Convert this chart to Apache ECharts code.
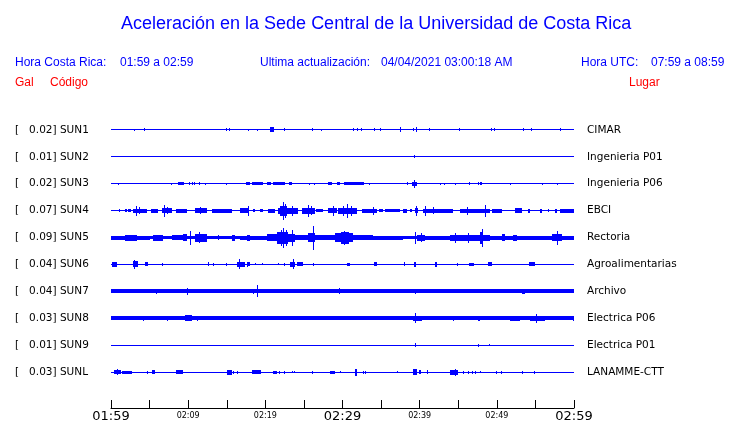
<!DOCTYPE html>
<html>
<head>
<meta charset="utf-8">
<script src="https://cdn.jsdelivr.net/npm/echarts@6/dist/echarts.min.js"></script>
<style>
html,body{margin:0;padding:0;background:#fff;}
#chart{width:740px;height:423px;}
</style>
</head>
<body>
<div id="chart"></div>
<script>
// ---- Data (time in minutes after 01:59, amplitude in relative units) ----
const codes = ['SUN1','SUN2','SUN3','SUN4','SUN5','SUN6','SUN7','SUN8','SUN9','SUNL'];
const peaks = ['0.02','0.01','0.02','0.07','0.09','0.04','0.04','0.03','0.01','0.03'];
const places = ['CIMAR','Ingenieria P01','Ingenieria P06','EBCI','Rectoria','Agroalimentarias','Archivo','Electrica P06','Electrica P01','LANAMME-CTT'];
const tickLabels = ['01:59','02:09','02:19','02:29','02:39','02:49','02:59'];
const baseAmp = [0.5,0.5,0.5,0.5,1.5,0.5,2,2,0.5,0.5];

// events: [start minute, end minute, amplitude]
const sun1 = [[3.0,3.0,1],[4.3,4.3,1.5],[14.9,14.9,1.5],[15.3,15.3,1.5],[17.8,17.8,1],[18.9,18.9,1],[20.6,21.1,2.5],[22.4,22.4,1.5],[26.0,26.0,1.5],[27.2,27.2,1],[31.4,31.4,1.5],[31.9,31.9,1.5],[32.4,32.4,1.5],[34.1,34.1,1.5],[34.9,34.9,1.5],[37.5,37.5,2.5],[39.1,39.1,1.5],[39.5,39.5,2.5],[41.2,41.2,1.5],[45.1,45.1,1.5],[49.2,49.2,1.5],[49.6,49.6,1.5],[53.4,53.4,1.5],[54.4,54.4,1.5],[58.2,58.2,1.5]];
const sun2 = [[39.3,39.4,1.5]];
const sun3 = [[0.9,0.9,1],[7.8,7.8,1],[8.7,9.5,1.5],[10.1,10.1,1.5],[10.5,10.5,1.5],[10.8,10.8,1.5],[11.4,11.4,1.5],[12.2,12.2,1],[14.9,14.9,1],[17.5,18.0,1.5],[18.3,19.7,1.5],[20.2,20.7,1.5],[21.0,22.6,1.5],[23.1,23.5,1.5],[25.7,25.7,1],[26.3,26.3,1],[28.1,28.6,1.5],[29.3,29.7,1.5],[30.2,32.8,1.5],[33.4,33.4,1],[38.4,38.4,1.5],[39.0,39.7,2],[39.3,39.3,4],[42.6,42.6,1],[43.2,43.2,1],[44.6,44.6,1],[46.4,46.4,1.5],[47.6,47.6,1.5],[47.8,48.1,1.5],[51.7,51.7,1],[55.9,55.9,1],[57.8,57.8,1]];
const sun4 = [[1.0,1.0,1.5],[1.8,2.1,1.5],[2.2,2.6,1.5],[2.9,4.7,2],[3.2,3.2,5],[3.6,3.6,3.5],[5.2,6.1,2],[6.6,7.9,2.5],[6.9,6.9,6],[7.3,7.3,3.5],[8.4,9.8,2],[10.9,12.4,2.5],[11.5,11.5,3.5],[13.1,15.7,2],[16.7,17.8,2.5],[17.8,17.8,5],[18.4,18.7,1.5],[19.3,19.7,1.5],[20.3,21.3,2],[21.6,24.2,3],[21.9,22.8,5],[22.3,22.3,9],[22.6,22.6,7],[23.4,23.4,5],[24.8,26.4,3],[25.5,25.5,6],[25.9,25.9,4.5],[26.6,27.5,1.5],[28.1,29.3,2.5],[28.8,28.8,5],[29.4,31.9,3],[30.1,30.1,5],[30.6,30.6,7],[31.1,31.1,5],[32.5,34.5,2],[34.0,34.0,4],[34.7,35.3,1.5],[35.5,37.5,1.5],[37.8,38.4,2],[38.8,39.0,1.5],[39.4,39.8,2.5],[39.5,39.5,5],[40.4,44.3,2],[40.7,40.7,5],[41.7,41.7,3.5],[45.2,49.1,2],[46.1,46.1,4],[48.5,48.5,6],[49.4,50.7,2],[52.4,53.3,2.5],[54.0,54.3,2],[55.6,55.9,2],[56.6,56.6,1.5],[57.5,57.8,2],[58.2,60,2]];
const sun5 = [[0,5.1,2],[1.8,3.4,3],[5.4,6.7,3],[7.9,9.3,2.5],[9.3,9.8,3.5],[10.2,10.2,7],[10.9,12.4,4],[11.4,11.4,5.5],[13.9,13.9,2.5],[15.7,16.1,3],[16.7,20.2,2],[17.6,18.0,3],[20.2,21.5,3.5],[21.5,22.9,6],[22.0,22.0,8],[22.3,22.3,10],[22.7,22.7,8],[22.9,23.8,4],[23.5,23.5,8],[23.8,25.5,2.5],[25.5,26.4,4.5],[26.2,26.2,12],[26.4,29.0,2.5],[29.0,31.4,4.5],[29.8,30.8,6],[30.2,30.2,7],[31.4,34.0,2.5],[34.0,37.8,2],[39.4,39.4,6],[39.7,40.7,3],[40.2,40.2,4.5],[40.7,43.9,2],[43.9,47.8,3],[44.6,44.6,5],[46.3,46.3,5],[47.8,48.2,6],[48.1,48.1,9],[48.2,49.1,3],[48.2,60,2],[50.7,51.1,3.5],[52.1,52.6,3],[57.2,58.4,3.5],[57.8,57.8,7]];
const sun6 = [[0.1,0.8,2.5],[2.9,3.5,3],[3.0,3.0,4.5],[4.4,4.8,2],[6.6,6.6,1.5],[12.6,12.6,2],[13.2,13.2,1.5],[14.9,14.9,1.5],[16.3,17.4,2.5],[16.6,16.6,5],[17.6,18.0,2],[17.6,17.6,2.5],[18.7,18.7,1],[19.6,19.6,1],[21.6,21.6,1],[22.4,22.4,1.5],[23.2,23.8,2.5],[23.6,23.6,5],[24.1,24.9,2],[26.2,26.2,1.5],[30.6,31.0,1.5],[34.1,34.5,2],[38.0,38.0,2],[39.3,39.5,2.5],[42.0,42.2,2.5],[44.8,44.8,1.5],[46.4,47.0,1.5],[48.9,49.4,2],[54.2,54.9,2]];
const sun7 = [[5.8,5.8,2.5],[9.8,9.8,3.5],[18.4,18.4,2.5],[18.9,18.9,6],[29.5,29.5,3],[39.4,39.4,2.5],[53.3,53.7,2.5]];
const sun8 = [[4.1,4.1,2.5],[7.3,7.3,2.5],[9.6,10.5,3],[11.1,11.1,2.5],[39.1,40.3,2.5],[39.4,39.4,5],[44.3,44.3,2.5],[47.6,47.8,2.5],[51.7,53.0,2.5],[54.3,56.2,2.5],[55.1,55.1,4.5],[59.9,60,2.5]];
const sun9 = [[39.4,39.4,2],[47.6,47.6,1.5],[49.0,49.0,1]];
const sunL = [[0.4,1.3,2],[0.8,0.8,3],[1.4,2.7,1.5],[4.7,4.7,1.5],[5.3,5.7,2],[8.4,9.3,2],[15.0,15.7,2.5],[15.8,15.8,1.5],[16.3,16.3,1.5],[18.3,19.4,2],[21.0,21.5,1.5],[21.8,21.8,1.5],[22.4,22.4,1.5],[23.5,23.5,1],[23.7,23.7,1],[26.0,26.0,1.5],[28.4,29.0,1.5],[29.7,29.7,1],[31.6,31.9,3.5],[32.7,32.7,1.5],[32.9,32.9,1.5],[37.1,37.1,1],[39.1,39.7,3],[39.9,40.2,2],[41.0,41.0,2],[43.9,45.0,2.5],[44.6,44.6,3.5],[45.6,45.6,1.5],[46.3,46.3,1.5],[46.8,46.8,1.5],[47.2,47.2,1.5],[47.8,47.8,1],[49.9,50.0,1.5],[50.5,50.5,1.5],[53.3,53.4,1.5],[54.8,54.8,1.5]];
const traces = [sun1,sun2,sun3,sun4,sun5,sun6,sun7,sun8,sun9,sunL];

// ---- Chart ----
const BLUE = '#0000ff', RED = '#ff0000';
const N = codes.length;
const ROW = 27, STEP = 9, FIRST = 36, YMAX = 306;
const rowValue = i => FIRST + ROW * (N - 1 - i);

const chart = echarts.init(document.getElementById('chart'), null, {renderer: 'canvas'});

function makeRender(i) {
  const yc = rowValue(i);
  return function (params, api) {
    const s = api.value(0), e = api.value(1), a = api.value(2);
    const p1 = api.coord([s, yc + a]);
    const p2 = api.coord([e, yc - a]);
    const x = Math.round(p1[0]);
    const w = Math.max(1, Math.round(p2[0]) - x);
    const y = Math.round(p1[1]);
    const h = Math.max(1, Math.round(p2[1]) - y);
    return {type: 'rect', shape: {x: x, y: y, width: w, height: h}, style: {fill: BLUE}};
  };
}

const series = traces.map((ev, i) => ({
  type: 'custom',
  renderItem: makeRender(i),
  data: [[0, 60, baseAmp[i]]].concat(ev),
  encode: {x: [0, 1], y: 2},
  clip: false,
  silent: true
}));

const labelFor = (fn) => (v) => {
  if ((v - FIRST) % ROW !== 0 || v < FIRST) return '';
  const i = N - 1 - (v - FIRST) / ROW;
  return (i >= 0 && i < N) ? fn(i) : '';
};

const yAxisBase = {
  type: 'value', min: 0, max: YMAX, interval: STEP,
  axisLine: {show: false}, axisTick: {show: false}, splitLine: {show: false}
};

const FONT12 = '12px "Liberation Sans", Arial, sans-serif';

chart.setOption({
  animation: false,
  backgroundColor: '#fff',
  grid: {left: 111, right: 166, top: 409 - YMAX, bottom: 14},
  xAxis: {
    type: 'value', min: 0, max: 60, interval: 5,
    axisLine: {lineStyle: {color: '#000', width: 1}},
    axisTick: {inside: true, length: 8, lineStyle: {color: '#000'}},
    splitLine: {show: false},
    axisLabel: {
      margin: 1,
      formatter: function (v) {
        if (v % 10 !== 0) return '';
        const t = tickLabels[v / 10];
        return v % 30 === 0 ? '{big|' + t + '}' : '{small|' + t + '}';
      },
      rich: {
        big: {fontFamily: 'DejaVu Sans', fontSize: 13, color: '#000', padding: [1, 0, 0, 0]},
        small: {fontFamily: 'DejaVu Sans', fontSize: 8, color: '#000', padding: [3, 0, 0, 0]}
      }
    }
  },
  yAxis: [
    Object.assign({}, yAxisBase, {
      position: 'left',
      axisLabel: {
        margin: 96, align: 'left', color: '#000', fontFamily: 'DejaVu Sans', fontSize: 10.5,
        formatter: labelFor(i => '[   ' + peaks[i] + '] ' + codes[i])
      }
    }),
    Object.assign({}, yAxisBase, {
      position: 'right',
      axisLabel: {
        margin: 13, align: 'left', color: '#000', fontFamily: 'DejaVu Sans', fontSize: 10.5,
        formatter: labelFor(i => places[i])
      }
    })
  ],
  graphic: [
    {type: 'text', left: 121, top: 15, style: {text: 'Aceleración en la Sede Central de la Universidad de Costa Rica', fill: BLUE, font: '18px "Liberation Sans", Arial, sans-serif'}},
    {type: 'text', left: 15, top: 57, style: {text: 'Hora Costa Rica:', fill: BLUE, font: FONT12}},
    {type: 'text', left: 120, top: 57, style: {text: '01:59 a 02:59', fill: BLUE, font: FONT12}},
    {type: 'text', left: 260, top: 57, style: {text: 'Ultima actualización:', fill: BLUE, font: FONT12}},
    {type: 'text', left: 381, top: 57, style: {text: '04/04/2021 03:00:18 AM', fill: BLUE, font: FONT12}},
    {type: 'text', left: 581, top: 57, style: {text: 'Hora UTC:', fill: BLUE, font: FONT12}},
    {type: 'text', left: 651, top: 57, style: {text: '07:59 a 08:59', fill: BLUE, font: FONT12}},
    {type: 'text', left: 15, top: 77, style: {text: 'Gal', fill: RED, font: FONT12}},
    {type: 'text', left: 50, top: 77, style: {text: 'Código', fill: RED, font: FONT12}},
    {type: 'text', left: 629, top: 77, style: {text: 'Lugar', fill: RED, font: FONT12}}
  ],
  series: series
});
</script>
</body>
</html>
